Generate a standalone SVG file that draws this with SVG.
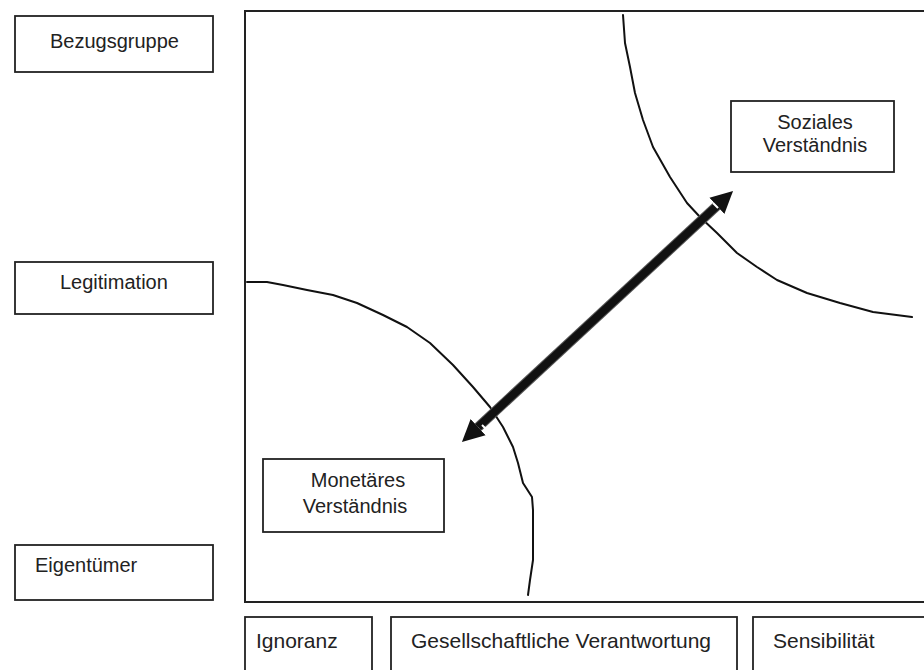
<svg xmlns="http://www.w3.org/2000/svg" width="924" height="670" viewBox="0 0 924 670">
<style>
.box{fill:#fff;stroke:#222;stroke-width:1.8}
.lbl{font-family:"Liberation Sans",Arial,sans-serif;font-size:20px;fill:#222}
.bl{font-family:"Liberation Sans",Arial,sans-serif;font-size:21px;fill:#222}
.curve{fill:none;stroke:#111;stroke-width:2;stroke-linejoin:round;stroke-linecap:round}
.frame{fill:none;stroke:#222;stroke-width:2}
</style>
<defs>
<marker id="head" markerUnits="userSpaceOnUse" markerWidth="24" markerHeight="24" viewBox="0 -12 24 24" refX="0" refY="0" orient="auto-start-reverse">
<path d="M0,-11 L22,0 L0,11 Z" fill="#111"/>
</marker>
</defs>
<rect width="924" height="670" fill="#fff"/>
<g id="frame"><path class="frame" d="M930,11 H245 V602 H930"/></g>
<g id="curve-upper"><polyline class="curve" points="623,15 625,43 630,67 635,93 643,120 653,147 670,177 687,203 700,217 717,233 737,253 757,267 777,280 807,293 840,303 873,312 912,317"/></g>
<g id="curve-lower"><polyline class="curve" points="247,282 267,282 283,285 307,290 333,295 357,303 383,315 407,327 430,343 453,365 473,387 490,407 503,427 513,447 518,463 523,483 532,497 533,510 533,537 533,560 530,580 528,595"/></g>
<g id="node-bezugsgruppe"><rect class="box" x="15" y="16" width="198" height="56"/><text class="lbl" x="50" y="48">Bezugsgruppe</text></g>
<g id="node-legitimation"><rect class="box" x="15" y="262" width="198" height="52"/><text class="lbl" x="60" y="289">Legitimation</text></g>
<g id="node-eigentuemer"><rect class="box" x="15" y="545" width="198" height="55"/><text class="lbl" x="35" y="572">Eigentümer</text></g>
<g id="node-soziales"><rect class="box" x="731" y="101" width="163" height="71"/><text class="lbl" text-anchor="middle" x="815" y="129">Soziales</text><text class="lbl" text-anchor="middle" x="815" y="152">Verständnis</text></g>
<g id="node-monetaeres"><rect class="box" x="263" y="459" width="181" height="73"/><text class="lbl" text-anchor="middle" x="358" y="487">Monetäres</text><text class="lbl" text-anchor="middle" x="355" y="513">Verständnis</text></g>
<g id="node-ignoranz"><rect class="box" x="245" y="617" width="127" height="70"/><text class="bl" x="256" y="648">Ignoranz</text></g>
<g id="node-verantwortung"><rect class="box" x="391" y="617" width="346" height="70"/><text class="bl" x="411" y="648">Gesellschaftliche Verantwortung</text></g>
<g id="node-sensibilitaet"><rect class="box" x="753" y="617" width="180" height="70"/><text class="bl" x="773" y="648">Sensibilität</text></g>
<g id="connectors">
<path d="M478.1,427.1 L716.9,205.9" stroke="#555" stroke-width="10" fill="none"/>
<path d="M478.1,427.1 L716.9,205.9" stroke="#111" stroke-width="8" fill="none" marker-start="url(#head)" marker-end="url(#head)"/>
<path d="M713,203 L718,208" stroke="#fff" stroke-width="2"/>
<path d="M482,425 L487,430" stroke="#fff" stroke-width="2"/>
</g>
</svg>
